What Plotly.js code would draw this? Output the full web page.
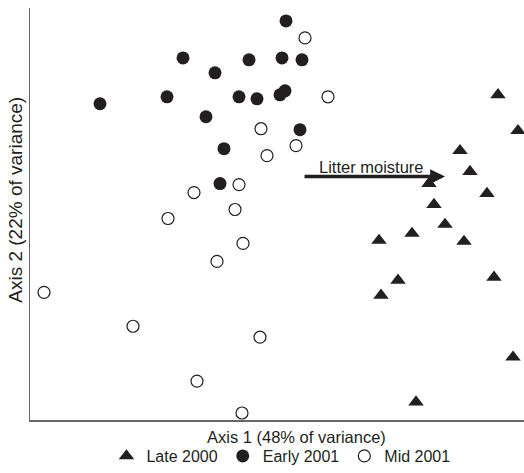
<!DOCTYPE html>
<html>
<head>
<meta charset="utf-8">
<script src="https://cdn.plot.ly/plotly-3.0.1.min.js"></script>
<style>html,body{margin:0;padding:0;background:#fff;}#chart{width:524px;height:473px;}</style>
</head>
<body>
<div id="chart"></div>
<script>
// Ordination scores (arbitrary units, no ticks on axes)
const seriesNames = ["Late 2000", "Early 2001", "Mid 2001"];

const late2000X = [468, 488, 430, 440, 457, 399, 404, 415, 382, 349, 434, 368, 351, 464, 483, 386];
const late2000Y = [326, 290, 270, 249, 227, 237, 216, 196, 187, 180, 179, 140, 125, 143, 63, 18];

const early2001X = [256, 153, 185, 219, 252, 272, 70, 137, 209, 227, 250, 255, 176, 270, 194, 190];
const early2001Y = [400, 363, 348, 361, 363, 361, 317, 324, 324, 322, 326, 330, 304, 291, 272, 237];

const mid2001X = [275, 298, 231, 266, 237, 209, 164, 205, 138, 213, 187, 14, 103, 230, 167, 212];
const mid2001Y = [383, 324, 292, 275, 265, 236, 228, 211, 202, 177, 159, 128, 94, 83, 39, 7];

const axisTitles = ["Axis 1 (48% of variance)", "Axis 2 (22% of variance)"];
const vectorLabel = "Litter moisture";
const vectorTail = [273, 244];
const vectorHead = [415, 244];

const ink = "#231f20";
const font = "Liberation Sans, Arial, sans-serif";

const traces = [
  {x: late2000X, y: late2000Y, name: seriesNames[0], type: "scatter", mode: "markers",
   marker: {symbol: "triangle-up", size: 13.5, color: ink}},
  {x: early2001X, y: early2001Y, name: seriesNames[1], type: "scatter", mode: "markers",
   marker: {symbol: "circle", size: 13, color: ink}},
  {x: mid2001X, y: mid2001Y, name: seriesNames[2], type: "scatter", mode: "markers",
   marker: {symbol: "circle-open", size: 12, color: ink, line: {width: 1.2, color: ink}}}
];

const layout = {
  width: 524, height: 473,
  margin: {l: 30, r: 0, t: 8, b: 52},
  paper_bgcolor: "#fff", plot_bgcolor: "#fff",
  font: {family: font, size: 16, color: ink},
  showlegend: true,
  legend: {orientation: "h", x: 0.508, xanchor: "center", y: -0.088, yanchor: "middle",
           font: {family: font, size: 16, color: ink}, itemwidth: 30, tracegroupgap: 0},
  xaxis: {range: [0, 494], showline: true, linecolor: "#666", linewidth: 1.5,
          showgrid: false, zeroline: false, showticklabels: false, ticks: "", fixedrange: true},
  yaxis: {range: [0, 413], showline: true, linecolor: "#666", linewidth: 1.5,
          showgrid: false, zeroline: false, showticklabels: false, ticks: "", fixedrange: true},
  annotations: [
    {xref: "paper", yref: "paper", x: 0.54, y: -0.041, text: axisTitles[0], showarrow: false,
     xanchor: "center", yanchor: "middle", font: {family: font, size: 16.5, color: ink}},
    {xref: "paper", yref: "paper", x: -0.030, y: 0.535, text: axisTitles[1], showarrow: false,
     textangle: -90, xanchor: "center", yanchor: "middle", font: {family: font, size: 19, color: ink}},
    {xref: "x", yref: "y", axref: "x", ayref: "y", x: vectorHead[0], y: vectorHead[1],
     ax: vectorTail[0], ay: vectorTail[1], text: "", showarrow: true,
     arrowhead: 2, arrowsize: 0.85, arrowwidth: 3.5, arrowcolor: ink},
    {xref: "x", yref: "y", x: (vectorTail[0] + vectorHead[0]) / 2 - 3, y: vectorTail[1] + 10,
     text: vectorLabel, showarrow: false, xanchor: "center", yanchor: "middle",
     font: {family: font, size: 16.5, color: ink}}
  ]
};

Plotly.newPlot("chart", traces, layout, {staticPlot: true, displayModeBar: false});
</script>
</body>
</html>
